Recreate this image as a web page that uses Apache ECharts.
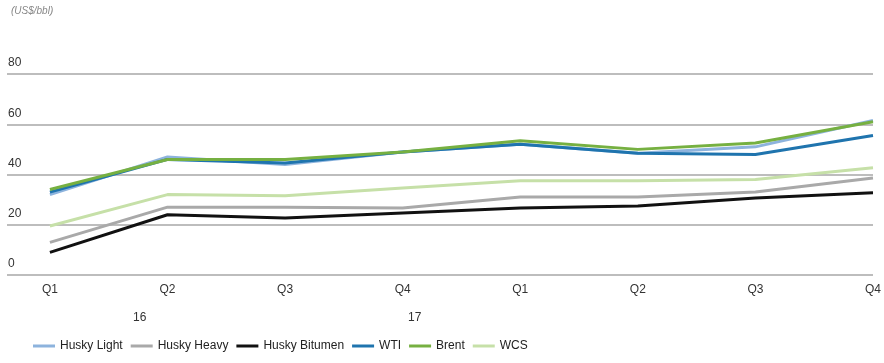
<!DOCTYPE html>
<html>
<head>
<meta charset="utf-8">
<script src="https://cdn.jsdelivr.net/npm/echarts@6/dist/echarts.min.js"></script>
<style>
  html, body { margin: 0; padding: 0; background: #fff; }
  #chart { width: 884px; height: 363px; }
</style>
</head>
<body>
<div id="chart"></div>
<script>
var myChart = echarts.init(document.getElementById('chart'));

// quarters, 2016 Q1 .. 2017 Q4
var quarters = ['Q1', 'Q2', 'Q3', 'Q4', 'Q1', 'Q2', 'Q3', 'Q4'];
var years = ['16', '17'];

var huskyLight   = [32, 47, 44, 49, 52, 48.5, 51, 61.5];
var huskyHeavy   = [13, 27, 27, 26.7, 31, 31, 33, 38.6];
var huskyBitumen = [9, 24, 22.7, 24.7, 26.7, 27.5, 30.6, 32.7];
var wti          = [33, 46, 44.6, 49, 52, 48.5, 48, 55.5];
var brent        = [34, 46, 46, 49, 53.4, 50, 52.5, 61];
var wcs          = [19.5, 32, 31.5, 34.6, 37.5, 37.5, 38, 42.7];

var yTicks = [0, 20, 40, 60, 80];

var names  = ['Husky Light', 'Husky Heavy', 'Husky Bitumen', 'WTI', 'Brent', 'WCS'];
var colors = ['#8db3dd', '#a9a9a9', '#111111', '#1f74ae', '#76b041', '#c6e0a8'];
var values = [huskyLight, huskyHeavy, huskyBitumen, wti, brent, wcs];

var font = '"Liberation Sans", Arial, sans-serif';

var toPoints = function (arr) {
    var res = [];
    for (var i = 0; i < arr.length; i++) {
        res.push([i, arr[i]]);
    }
    return res;
};

var series = [];
for (var i = 0; i < names.length; i++) {
    series.push({
        name: names[i],
        type: 'line',
        data: toPoints(values[i]),
        symbol: 'none',
        lineStyle: { width: 3, color: colors[i] },
        itemStyle: { color: colors[i] },
        z: 2 + i
    });
}

var option = {
    backgroundColor: '#fff',
    animation: false,
    textStyle: { fontFamily: font },
    title: {
        text: '(US$/bbl)',
        left: 6,
        top: 1,
        textStyle: { fontSize: 10, fontStyle: 'italic', fontWeight: 'normal', color: '#888', fontFamily: font }
    },
    grid: { left: 7, right: 4, top: 74, bottom: 88 },
    xAxis: {
        type: 'value',
        min: -0.365,
        max: 7.0,
        minInterval: 1,
        maxInterval: 1,
        splitLine: { show: false },
        axisTick: { show: false },
        axisLine: { show: false },
        axisLabel: {
            margin: 9,
            fontSize: 12,
            color: '#333',
            fontFamily: font,
            formatter: function (v) {
                return (Math.abs(v - Math.round(v)) < 1e-6 && quarters[Math.round(v)]) ? quarters[Math.round(v)] : '';
            }
        }
    },
    yAxis: {
        type: 'value',
        min: yTicks[0],
        max: yTicks[yTicks.length - 1],
        interval: 20,
        axisLine: { show: false },
        axisTick: { show: false },
        splitLine: { lineStyle: { color: '#bdbdbd', width: 2 } },
        axisLabel: {
            inside: true,
            margin: 1,
            verticalAlign: 'bottom',
            padding: [0, 0, 5, 0],
            fontSize: 12,
            color: '#333',
            fontFamily: font
        }
    },
    legend: {
        data: names,
        left: 28,
        top: 335,
        icon: 'rect',
        itemWidth: 22,
        itemHeight: 3,
        itemGap: 8,
        textStyle: { fontSize: 12, color: '#222', fontFamily: font }
    },
    graphic: [
        { type: 'text', left: 133, top: 312, style: { text: years[0], font: '12px ' + font, fill: '#333' } },
        { type: 'text', left: 408, top: 312, style: { text: years[1], font: '12px ' + font, fill: '#333' } }
    ],
    series: series
};

myChart.setOption(option);
</script>
</body>
</html>
